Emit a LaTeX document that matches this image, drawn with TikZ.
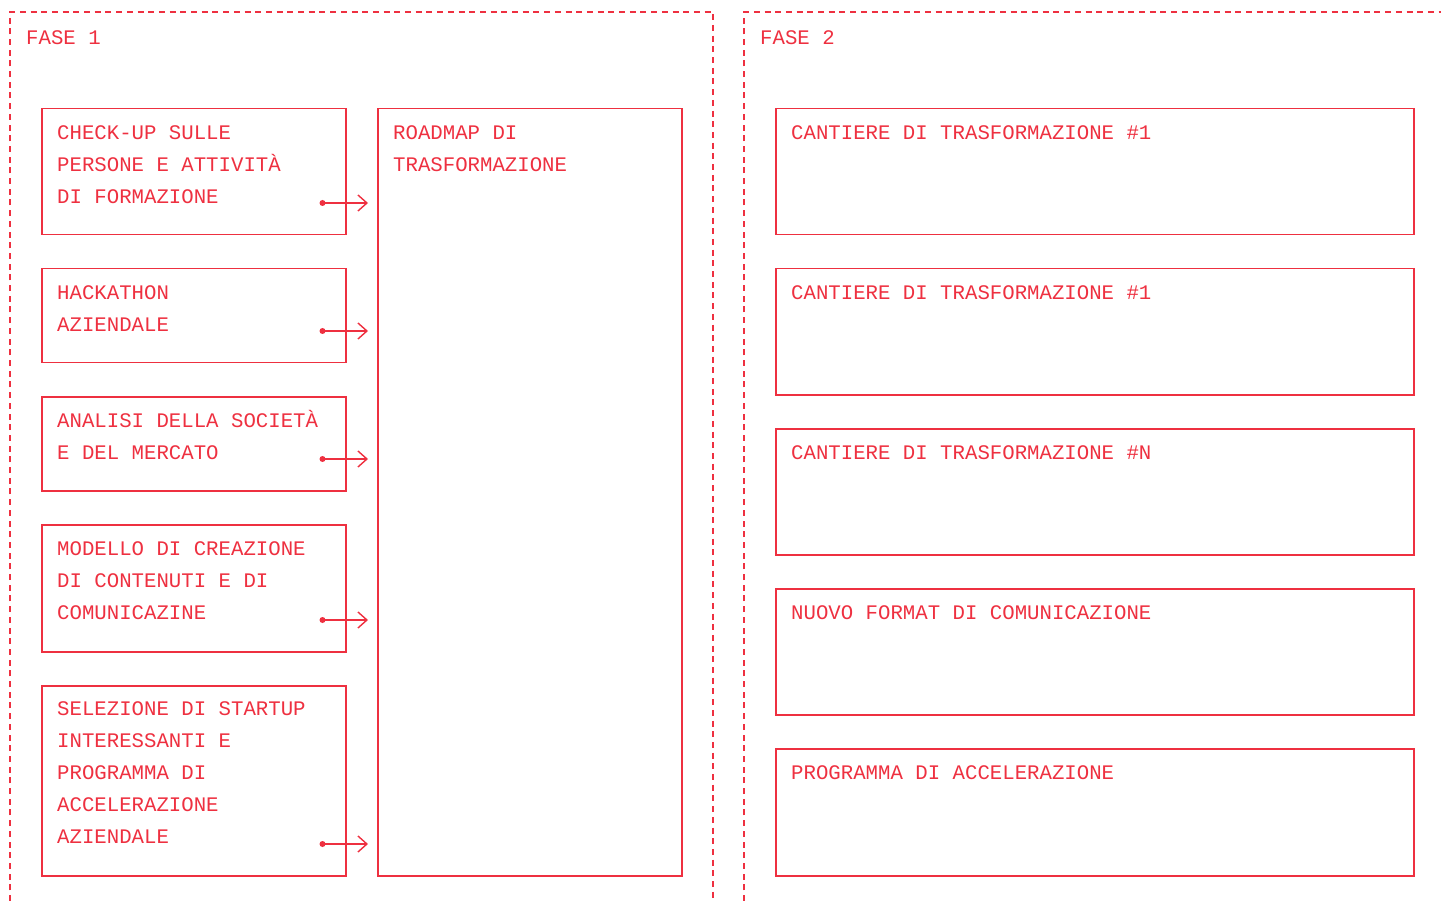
\documentclass[tikz,border=0pt]{standalone}
\usepackage{fontspec}
\setmonofont{Liberation Mono}
\usetikzlibrary{arrows.meta}
\definecolor{accred}{RGB}{238,48,64}
\tikzset{
  frame/.style={draw=accred, line width=1.3pt, dash pattern=on 6pt off 4.7pt},
  boxnode/.style={draw=accred, line width=1.5pt, rectangle, inner sep=0pt, anchor=north west},
  txt/.style={text=accred, anchor=north west, inner sep=0pt, align=left,
    font=\ttfamily\fontsize{20.7}{32}\selectfont},
  link/.style={draw=accred, line width=1.4pt, -{Straight Barb[length=9pt,width=16pt,line width=1.4pt]}},
  dot/.style={fill=accred, circle, inner sep=0pt, minimum size=6pt},
}
\newcommand{\fs}{\rule{0pt}{20pt}}
\begin{document}
\begin{tikzpicture}[x=1pt,y=-1pt]
\useasboundingbox (0,0) rectangle (1441,901);
% frames
\draw[frame] (10,901) -- (10,12) -- (713,12) -- (713,901);
\draw[frame] (744,901) -- (744,12) -- (1441,12);
\node[txt] (f1) at (26,24) {\fs FASE 1};
\node[txt] (f2) at (760,24) {\fs FASE 2};
% left boxes
\node[boxnode, minimum width=304pt, minimum height=126pt] (b1) at (41,108) {};
\node[boxnode, minimum width=304pt, minimum height=94pt] (b2) at (41,268) {};
\node[boxnode, minimum width=304pt, minimum height=94pt] (b3) at (41,396) {};
\node[boxnode, minimum width=304pt, minimum height=127pt] (b4) at (41,524) {};
\node[boxnode, minimum width=304pt, minimum height=190pt] (b5) at (41,685) {};
\node[boxnode, minimum width=304pt, minimum height=767pt] (rm) at (377,108) {};
\node[txt] (t1) at (57,119) {\fs CHECK-UP SULLE\\PERSONE E ATTIVITÀ\\DI FORMAZIONE};
\node[txt] (t2) at (57,279) {\fs HACKATHON\\AZIENDALE};
\node[txt] (t3) at (57,407) {\fs ANALISI DELLA SOCIETÀ\\E DEL MERCATO};
\node[txt] (t4) at (57,535) {\fs MODELLO DI CREAZIONE\\DI CONTENUTI E DI\\COMUNICAZINE};
\node[txt] (t5) at (57,695) {\fs SELEZIONE DI STARTUP\\INTERESSANTI E\\PROGRAMMA DI\\ACCELERAZIONE\\AZIENDALE};
\node[txt] (trm) at (393,119) {\fs ROADMAP DI\\TRASFORMAZIONE};
% arrows
\foreach \b/\y in {b1/203,b2/331,b3/459,b4/620,b5/844}{
  \node[dot] (d\b) at (322.5,\y) {};
  \draw[link] (d\b.center) -- ([xshift=-9pt]rm.west |- d\b.center);
}
% right boxes
\node[boxnode, minimum width=638pt, minimum height=126pt] (c1) at (775,108) {};
\node[boxnode, minimum width=638pt, minimum height=126pt] (c2) at (775,268) {};
\node[boxnode, minimum width=638pt, minimum height=126pt] (c3) at (775,428) {};
\node[boxnode, minimum width=638pt, minimum height=126pt] (c4) at (775,588) {};
\node[boxnode, minimum width=638pt, minimum height=127pt] (c5) at (775,748) {};
\node[txt] (u1) at (791,119) {\fs CANTIERE DI TRASFORMAZIONE \#1};
\node[txt] (u2) at (791,279) {\fs CANTIERE DI TRASFORMAZIONE \#1};
\node[txt] (u3) at (791,439) {\fs CANTIERE DI TRASFORMAZIONE \#N};
\node[txt] (u4) at (791,599) {\fs NUOVO FORMAT DI COMUNICAZIONE};
\node[txt] (u5) at (791,759) {\fs PROGRAMMA DI ACCELERAZIONE};
\end{tikzpicture}
\end{document}
